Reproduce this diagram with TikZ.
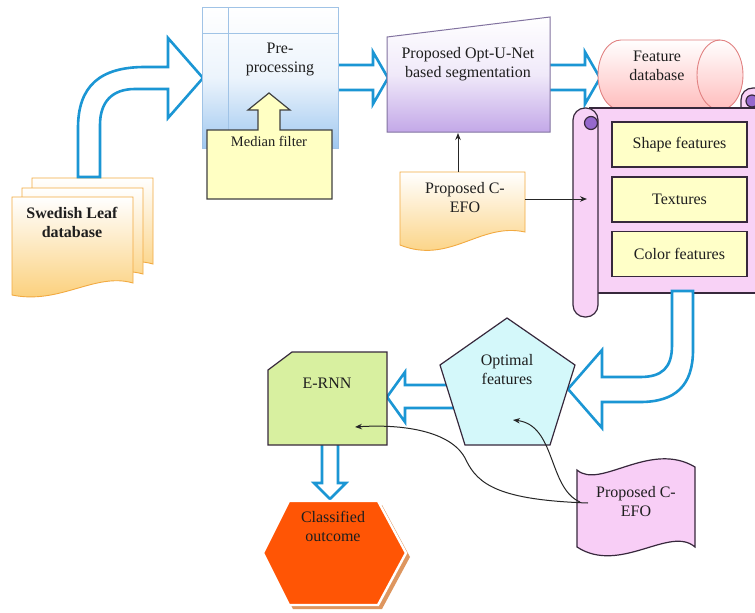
\documentclass[tikz,border=0pt]{standalone}
\usepackage{fontspec}
\setmainfont{Liberation Serif}
\usetikzlibrary{arrows.meta,calc}
\definecolor{arrowblue}{RGB}{27,150,212}
\definecolor{txt}{RGB}{30,30,30}
\definecolor{docbot}{RGB}{251,205,115}
\definecolor{docline}{RGB}{242,170,65}
\definecolor{preblue}{RGB}{160,200,240}
\definecolor{preline}{RGB}{160,195,230}
\definecolor{mfyellow}{RGB}{255,255,195}
\definecolor{optpurple}{RGB}{195,168,232}
\definecolor{optline}{RGB}{130,115,160}
\definecolor{cylpink}{RGB}{255,188,188}
\definecolor{cylline}{RGB}{225,130,130}
\definecolor{scrollpink}{RGB}{248,210,246}
\definecolor{scrolline}{RGB}{55,40,60}
\definecolor{curlpurple}{RGB}{150,105,205}
\definecolor{featyellow}{RGB}{255,255,200}
\definecolor{pentcyan}{RGB}{212,248,250}
\definecolor{ernngreen}{RGB}{216,240,160}
\definecolor{hexorange}{RGB}{255,85,5}
\definecolor{hexshadow}{RGB}{222,150,95}
\definecolor{tapepink}{RGB}{248,206,246}
\begin{document}
\begin{tikzpicture}[x=1pt,y=-1pt,
  every node/.style={font=\fontsize{16}{19}\selectfont, text=txt, align=center, inner sep=0pt},
  barrow/.style={draw=arrowblue, line width=2.6pt, fill=white, line join=miter},
  docfill/.style={top color=white, bottom color=docbot, draw=docline, line width=0.9pt},
  darkline/.style={draw=scrolline, line width=1.2pt},
  featbox/.style={darkline, fill=featyellow, minimum width=135pt, minimum height=45pt},
  conn/.style={draw=black!85, line width=1pt, -{Stealth[length=7pt,width=5.5pt]}}
]
\useasboundingbox (0,0) rectangle (755,613);
\clip (0,0) rectangle (755,613);
\fill[white] (0,0) rectangle (755,613);

% ---------- Swedish Leaf database (multi-document) ----------
\foreach \dx/\dy in {20/-19,10/-9,0/0}{
  \begin{scope}[shift={(\dx,\dy)}]
    \path[docfill] (12,197) -- (133,197) -- (133,283) .. controls (95,272) and (60,305) .. (12,295) -- cycle;
  \end{scope}
}
\node[font=\fontsize{16}{19}\selectfont\bfseries] (leaf) at (72,222) {Swedish Leaf\\database};

% curved blue arrow to pre-processing
\draw[barrow] (78,177) -- (78,128) .. controls (78,86) and (100,67) .. (145,67) -- (168,67) -- (168,38) -- (203,78) -- (168,118) -- (168,89) -- (135,89) .. controls (112,89) and (100,102) .. (100,125) -- (100,177) -- cycle;

% block arrow pre -> opt
\draw[barrow] (330,65) -- (373,65) -- (373,52) -- (388,78) -- (373,104) -- (373,90) -- (330,90) -- cycle;

% ---------- Pre-processing ----------
\node[draw=preline, line width=0.8pt, top color=white, bottom color=preblue, middle color=white!80!preblue,
      minimum width=136pt, minimum height=141pt] (pre) at (270,77.5) {};
\draw[preline, line width=0.8pt] (228,7) -- (228,148);
\draw[preline, line width=0.8pt] (202,33) -- (338,33);
\node (pretext) at (280,59) {Pre-\\processing};

% Median filter callout
\path[fill=mfyellow, draw=black!75, line width=1.2pt] (207,130) -- (258,130) -- (258,110) -- (248,110) -- (269,93) -- (290,110) -- (280,110) -- (280,130) -- (332,130) -- (332,199) -- (207,199) -- cycle;
\node[font=\fontsize{14.5}{17}\selectfont] (median) at (269,141) {Median filter};

% block arrow opt -> feature db
\draw[barrow] (540,65) -- (585,65) -- (585,52) -- (600,78) -- (585,104) -- (585,90) -- (540,90) -- cycle;

% ---------- Opt-U-Net ----------
\path[top color=white, bottom color=optpurple, middle color=white!75!optpurple, draw=optline, line width=1pt]
  (387,37) -- (550,17) -- (550,132) -- (387,132) -- cycle;
\node (opt) at (468,64) {Proposed Opt-U-Net\\based segmentation};

% ---------- Feature database cylinder ----------
\path[top color=white, bottom color=cylpink, draw=cylline, line width=0.9pt]
  (621,40) -- (720,40) .. controls (732.7,40) and (743,55.7) .. (743,75) .. controls (743,94.3) and (732.7,110) .. (720,110)
  -- (621,110) .. controls (608.3,110) and (598,94.3) .. (598,75) .. controls (598,55.7) and (608.3,40) .. (621,40) -- cycle;
\draw[cylline, line width=0.9pt] (720,40) .. controls (707.3,40) and (697,55.7) .. (697,75) .. controls (697,94.3) and (707.3,110) .. (720,110);
\node (fdb) at (657,66) {Feature\\database};

% ---------- Scroll ----------
\path[darkline, fill=scrollpink] (741,108) -- (741,100) .. controls (741,93) and (746,88) .. (753,88) -- (762,88) -- (762,108) -- cycle;
\path[darkline, fill=curlpurple] (752,101) circle[radius=6pt];
\path[darkline, fill=scrollpink] (590,108) -- (762,108) -- (762,293) -- (590,293) -- cycle;
\path[darkline, fill=scrollpink, rounded corners=12pt] (573,108) rectangle (598,317);
\path[darkline, fill=curlpurple] (591,123) circle[radius=6.5pt];

\node[featbox] (shape) at (679.5,144.5) {Shape features};
\node[featbox] (tex) at (679.5,199.5) {Textures};
\node[featbox] (col) at (679.5,254) {Color features};

% ---------- Proposed C-EFO (top) ----------
\path[docfill] (400,172) -- (525,172) -- (525,232) .. controls (480,222) and (450,265) .. (400,245) -- cycle;
\node (cefoA) at (465,198) {Proposed C-\\EFO};
\coordinate (cAtop) at (458,172);
\coordinate (optS) at (458,133);
\coordinate (cAright) at (525,199);
\coordinate (rollpt) at (587,199);
\draw[conn] (cAtop) -- (optS);
\draw[conn] (cAright) -- (rollpt);

% curved blue arrow scroll -> pentagon
\draw[barrow] (672,291) -- (672,345) .. controls (672,368) and (662,377) .. (640,377) -- (602,377) -- (602,350) -- (568,389) -- (602,428) -- (602,402) -- (640,402) .. controls (676,402) and (693,385) .. (693,350) -- (693,291) -- cycle;

% block arrow pentagon -> E-RNN
\draw[barrow] (460,385) -- (405,385) -- (405,372) -- (387,397) -- (405,422) -- (405,408) -- (460,408) -- cycle;

% ---------- Optimal features pentagon ----------
\path[darkline, fill=pentcyan] (507,318) -- (575,365) -- (550,445) -- (465,445) -- (440,365) -- cycle;
\node (optf) at (507,370) {Optimal\\features};

% block arrow E-RNN -> classified
\draw[barrow] (322,440) -- (322,483) -- (314,483) -- (330,499) -- (346,483) -- (338,483) -- (338,440) -- cycle;

% ---------- E-RNN ----------
\path[darkline, fill=ernngreen] (292,352) -- (387,352) -- (387,445) -- (268,445) -- (268,370) -- cycle;
\node (ernn) at (327,383) {E-RNN};

% ---------- Classified outcome hexagon ----------
\path[fill=hexshadow] (293,505) -- (382,505) -- (410,557) -- (382,609) -- (293,609) -- (267,557) -- cycle;
\path[fill=hexorange, draw=white, line width=2.4pt] (289,501) -- (378,501) -- (406,553) -- (378,605) -- (289,605) -- (263,553) -- cycle;
\node (cls) at (333,526) {Classified\\outcome};

% ---------- Proposed C-EFO (bottom tape) ----------
\path[darkline, fill=tapepink] (577,470) .. controls (600,490) and (650,440) .. (695,467) -- (695,547) .. controls (670,525) and (620,575) .. (577,547) -- cycle;
\node (cefoB) at (636,502) {Proposed C-\\EFO};

\coordinate (tpA) at (588,503);
\coordinate (ernnpt) at (355,427);
\coordinate (tpB) at (580,502);
\coordinate (pentpt) at (513,420);
\draw[conn] (tpA) .. controls (500,500) and (478,485) .. (466,460) .. controls (452,430) and (400,424) .. (ernnpt);
\draw[conn] (tpB) .. controls (548,488) and (556,425) .. (pentpt);
\end{tikzpicture}
\end{document}
